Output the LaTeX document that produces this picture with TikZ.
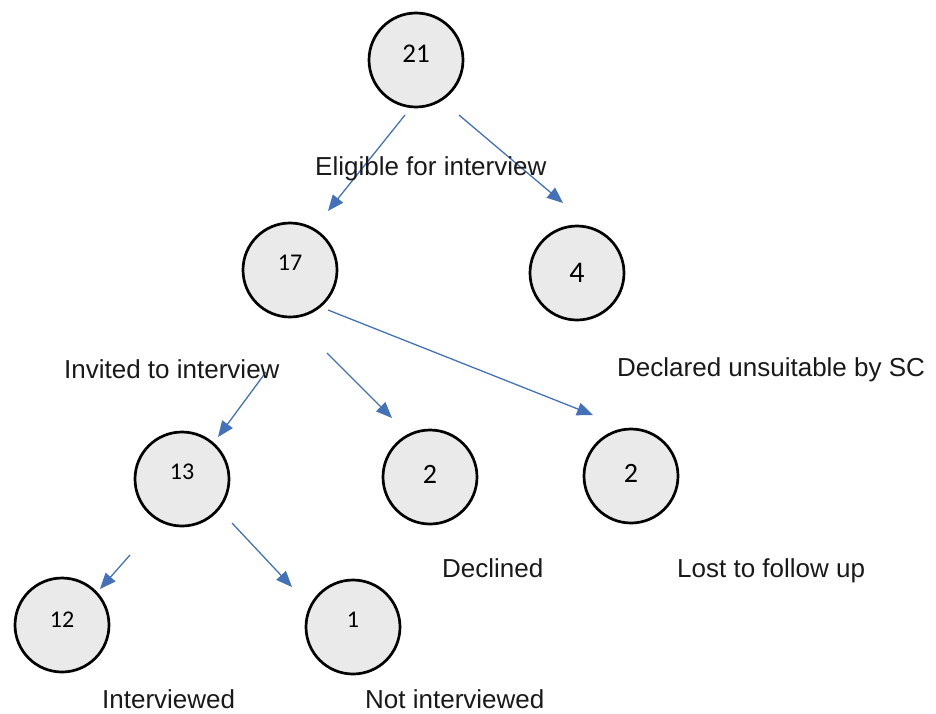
\documentclass[tikz,border=0pt]{standalone}
\usepackage{fontspec}
\setmainfont{Liberation Sans}
\newfontfamily\numfont{Carlito}
\usetikzlibrary{arrows.meta}
\definecolor{flowblue}{RGB}{68,114,186}
\definecolor{discfill}{RGB}{234,234,234}
\begin{document}
\begin{tikzpicture}[x=1pt,y=-1pt,
  disc/.style={circle,draw=black,line width=2.7pt,fill=discfill,minimum size=94pt,inner sep=0pt},
  num/.style={anchor=base,inner sep=0pt,font=\numfont\fontsize{#1}{#1}\selectfont},
  flow/.style={draw=flowblue,line width=1.3pt,-{Triangle[length=16pt,width=13pt]}},
  lbl/.style={anchor=base west,inner sep=0pt,text=black!90,font=\fontsize{26}{30}\selectfont}
]
\useasboundingbox (0,0) rectangle (936,713);

% discs
\node[disc] (n21) at (416,60) {};
\node[disc] (n17) at (290,270) {};
\node[disc] (n4)  at (577,273) {};
\node[disc] (n13) at (182,479) {};
\node[disc] (n2a) at (430,477) {};
\node[disc] (n2b) at (631,476) {};
\node[disc] (n12) at (62,625) {};
\node[disc] (n1)  at (353,627) {};

% counts
\node[num=27] at (n21.center) [yshift=-2pt] {21};
\node[num=24] at (n17.center) {17};
\node[num=30] at (n4.center) [yshift=-9pt] {4};
\node[num=24] at (n13.center) {13};
\node[num=28] at (n2a.center) [yshift=-6pt] {2};
\node[num=28] at (n2b.center) [yshift=-6pt] {2};
\node[num=24] at (n12.center) [yshift=-2pt] {12};
\node[num=24] at (n1.center) {1};

% connector ends
\coordinate (s21a) at (405,115);  \coordinate (e21a) at (328,211);
\coordinate (s21b) at (459,115);  \coordinate (e21b) at (563,203);
\coordinate (s17c) at (328,310);  \coordinate (e17c) at (593,415);
\coordinate (s17b) at (327,353);  \coordinate (e17b) at (392,418);
\coordinate (s17a) at (266,372);  \coordinate (e17a) at (218,437);
\coordinate (s13a) at (130,555);  \coordinate (e13a) at (100,589);
\coordinate (s13b) at (232,523);  \coordinate (e13b) at (292,587);

% connectors
\draw[flow] (s21a) -- (e21a);
\draw[flow] (s21b) -- (e21b);
\draw[flow] (s17c) -- (e17c);
\draw[flow] (s17b) -- (e17b);
\draw[flow] (s17a) -- (e17a);
\draw[flow] (s13a) -- (e13a);
\draw[flow] (s13b) -- (e13b);

% labels
\node[lbl] (l1) at (315,175) {Eligible for interview};
\node[lbl] (l2) at (64,378) {Invited to interview};
\node[lbl] (l3) at (617,376) {Declared unsuitable by SC};
\node[lbl] (l4) at (442,577) {Declined};
\node[lbl] (l5) at (677,577) {Lost to follow up};
\node[lbl] (l6) at (102,708) {Interviewed};
\node[lbl] (l7) at (365,708) {Not interviewed};
\end{tikzpicture}
\end{document}
